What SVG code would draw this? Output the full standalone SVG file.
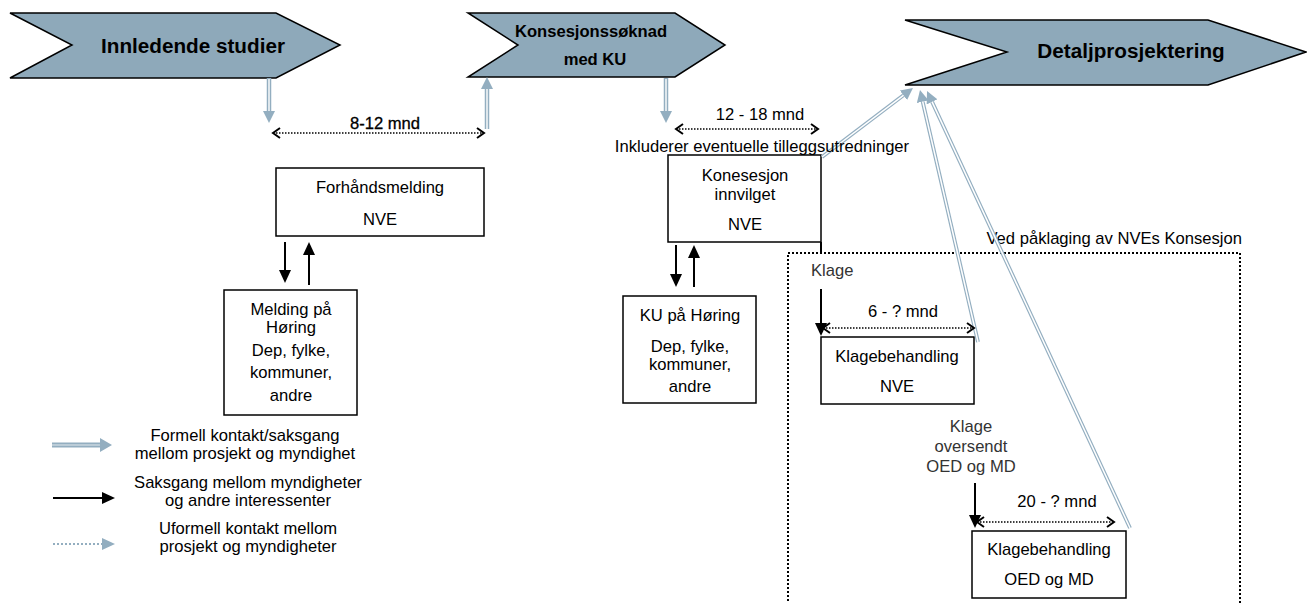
<svg xmlns="http://www.w3.org/2000/svg" width="1307" height="603" viewBox="0 0 1307 603">
<style>
  text { font-family: "Liberation Sans", Arial, sans-serif; font-size: 16.6px; fill: #000; }
  .c { text-anchor: middle; }
  .hd { font-weight: bold; font-size: 20.7px; }
  .hd2 { font-weight: bold; font-size: 16.6px; }
  .grey { fill: #333; }
  .chev { fill: #8EA9BA; stroke: #000; stroke-width: 1.5; }
  .box { fill: #fff; stroke: #000; stroke-width: 1.5; }
  .f-out { fill: none; stroke: #93AEC0; stroke-width: 4.5; }
  .f-in { fill: none; stroke: #fff; stroke-width: 1.4; }
  .d-out { fill: none; stroke: #93AEC0; stroke-width: 3.8; }
  .d-in { fill: none; stroke: #fff; stroke-width: 1.5; }
  .blk { fill: none; stroke: #000; stroke-width: 2; }
  .dim { fill: none; stroke: #000; stroke-width: 1.6; stroke-dasharray: 1.5 1.5; }
  .dotbox { fill: none; stroke: #000; stroke-width: 2; stroke-dasharray: 2 2; }
</style>
<defs>
  <marker id="fh" markerUnits="userSpaceOnUse" markerWidth="12" markerHeight="12" viewBox="0 0 12 12" refX="0" refY="6" orient="auto">
    <path d="M0,0 L12,6 L0,12 z" fill="#93AEC0"/>
  </marker>
  <marker id="bh" markerUnits="userSpaceOnUse" markerWidth="13" markerHeight="12" viewBox="0 0 13 12" refX="0" refY="6" orient="auto">
    <path d="M0,0 L13,6 L0,12 z" fill="#000"/>
  </marker>
  <marker id="oh" markerUnits="userSpaceOnUse" markerWidth="10" markerHeight="12" viewBox="0 0 10 12" refX="8" refY="6" orient="auto-start-reverse">
    <path d="M1,1 L8,6 L1,11" fill="none" stroke="#000" stroke-width="2"/>
  </marker>
</defs>

<g id="n-innledende">
  <polygon class="chev" points="10,13 276,13 340,45 276,78 10,78 72,45"/>
  <text class="c hd" x="193" y="53">Innledende studier</text>
</g>
<g id="n-konsesjonssoknad">
  <polygon class="chev" points="468,13 675,13 725,45 675,77 468,77 518,45"/>
  <text class="c hd2" x="591" y="37">Konsesjonssøknad</text>
  <text class="c hd2" x="595" y="65">med KU</text>
</g>
<g id="n-detalj">
  <polygon class="chev" points="905,20 1208,20 1306,52 1208,85 905,85 1007,52"/>
  <text class="c hd" x="1131" y="58">Detaljprosjektering</text>
</g>

<g id="n-forhandsmelding">
  <rect class="box" x="276" y="168" width="208" height="68"/>
  <text class="c" x="380" y="193">Forhåndsmelding</text>
  <text class="c" x="380" y="225">NVE</text>
</g>
<g id="n-melding">
  <rect class="box" x="224" y="290" width="133" height="125"/>
  <text class="c" x="291" y="315">Melding på</text>
  <text class="c" x="291" y="333">Høring</text>
  <text class="c" x="291" y="356">Dep, fylke,</text>
  <text class="c" x="291" y="378">kommuner,</text>
  <text class="c" x="291" y="401">andre</text>
</g>
<g id="n-konsesjon">
  <rect class="box" x="668" y="155" width="153" height="87"/>
  <text class="c" x="745" y="181">Konesesjon</text>
  <text class="c" x="745" y="200">innvilget</text>
  <text class="c" x="745" y="230">NVE</text>
</g>
<g id="n-ku">
  <rect class="box" x="623" y="296" width="133" height="107"/>
  <text class="c" x="690" y="321">KU på Høring</text>
  <text class="c" x="690" y="352">Dep, fylke,</text>
  <text class="c" x="690" y="370">kommuner,</text>
  <text class="c" x="690" y="392">andre</text>
</g>
<g id="n-paklaging">
  <rect class="dotbox" x="788" y="253" width="452" height="360"/>
  <text x="1242" y="244" style="text-anchor:end">Ved påklaging av NVEs Konsesjon</text>
  <text class="grey" x="811" y="276">Klage</text>
  <text class="c grey" x="971" y="432">Klage</text>
  <text class="c grey" x="971" y="452">oversendt</text>
  <text class="c grey" x="971" y="472">OED og MD</text>
</g>
<g id="n-klage-nve">
  <rect class="box" x="821" y="337" width="153" height="67"/>
  <text class="c" x="897" y="362">Klagebehandling</text>
  <text class="c" x="897" y="392">NVE</text>
</g>
<g id="n-klage-oed">
  <rect class="box" x="972" y="531" width="154" height="67"/>
  <text class="c" x="1049" y="555">Klagebehandling</text>
  <text class="c" x="1049" y="585">OED og MD</text>
</g>

<g id="connectors">
  <line class="f-out" x1="269" y1="78" x2="269" y2="111" marker-end="url(#fh)"/>
  <line class="f-in" x1="269" y1="79" x2="269" y2="111"/>
  <line class="f-out" x1="487" y1="129" x2="487" y2="89" marker-end="url(#fh)"/>
  <line class="f-in" x1="487" y1="129" x2="487" y2="89"/>
  <line class="f-out" x1="666" y1="78" x2="666" y2="111" marker-end="url(#fh)"/>
  <line class="f-in" x1="666" y1="79" x2="666" y2="111"/>

  <line class="d-out" x1="822" y1="157" x2="903.4" y2="95.3" marker-end="url(#fh)"/>
  <line class="d-in" x1="822" y1="157" x2="903.4" y2="95.3"/>
  <line class="d-out" x1="978" y1="342" x2="922.7" y2="101.7" marker-end="url(#fh)"/>
  <line class="d-in" x1="978" y1="342" x2="922.7" y2="101.7"/>
  <line class="d-out" x1="1130" y1="528" x2="932.1" y2="101.9" marker-end="url(#fh)"/>
  <line class="d-in" x1="1130" y1="528" x2="932.1" y2="101.9"/>

  <line class="blk" x1="285" y1="242" x2="285" y2="270" marker-end="url(#bh)"/>
  <line class="blk" x1="309" y1="285" x2="309" y2="255" marker-end="url(#bh)"/>
  <line class="blk" x1="676" y1="245" x2="676" y2="274" marker-end="url(#bh)"/>
  <line class="blk" x1="694" y1="287" x2="694" y2="258" marker-end="url(#bh)"/>
  <line class="blk" x1="821" y1="242" x2="821" y2="253"/>
  <line class="blk" x1="821" y1="289" x2="821" y2="323" marker-end="url(#bh)"/>
  <line class="blk" x1="975" y1="483" x2="975" y2="515" marker-end="url(#bh)"/>

  <line class="dim" x1="273" y1="133" x2="484" y2="133" marker-start="url(#oh)" marker-end="url(#oh)"/>
  <line class="dim" x1="676" y1="129" x2="818" y2="129" marker-start="url(#oh)" marker-end="url(#oh)"/>
  <line class="dim" x1="823" y1="328" x2="974" y2="328" marker-start="url(#oh)" marker-end="url(#oh)"/>
  <line class="dim" x1="977" y1="522" x2="1114" y2="522" marker-start="url(#oh)" marker-end="url(#oh)"/>
</g>

<g id="labels">
  <text class="c" x="385" y="129" style="stroke:#000;stroke-width:0.3">8-12 mnd</text>
  <text class="c" x="760" y="120">12 - 18 mnd</text>
  <text class="c" x="762" y="152">Inkluderer eventuelle tilleggsutredninger</text>
  <text class="c" x="903" y="317">6 - ? mnd</text>
  <text class="c" x="1057" y="507">20 - ?  mnd</text>
</g>

<g id="legend">
  <line x1="52" y1="445" x2="100" y2="445" stroke="#93AEC0" stroke-width="5"/>
  <line x1="52" y1="445" x2="100" y2="445" stroke="#C9D6DF" stroke-width="1.4"/>
  <polygon points="100,438 112,445 100,452" fill="#93AEC0"/>
  <text class="c" x="245" y="441">Formell kontakt/saksgang</text>
  <text class="c" x="245" y="459">mellom prosjekt og myndighet</text>

  <line class="blk" x1="53" y1="498" x2="102" y2="498" stroke-width="2.5" marker-end="url(#bh)"/>
  <text class="c" x="248" y="488">Saksgang mellom myndigheter</text>
  <text class="c" x="248" y="506">og andre interessenter</text>

  <line x1="53" y1="544" x2="102" y2="544" stroke="#93AEC0" stroke-width="2" stroke-dasharray="2 2"/>
  <polygon points="102,538 115,544 102,550" fill="#93AEC0"/>
  <text class="c" x="248" y="534">Uformell kontakt mellom</text>
  <text class="c" x="248" y="552">prosjekt og myndigheter</text>
</g>
</svg>
